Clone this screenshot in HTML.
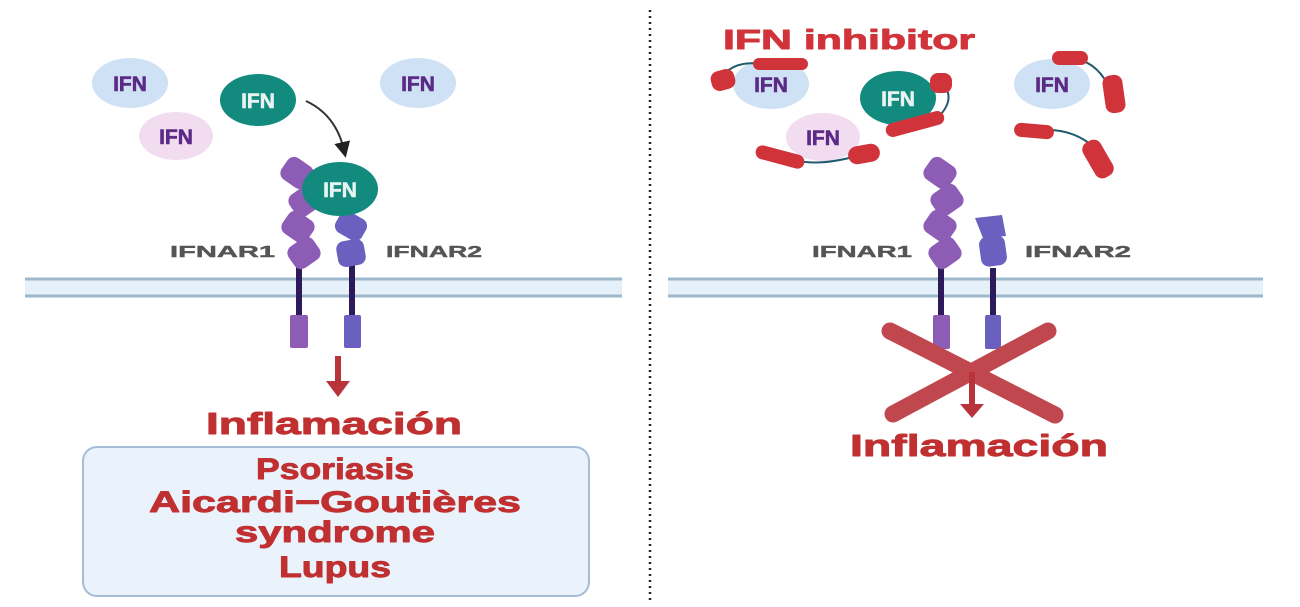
<!DOCTYPE html>
<html><head><meta charset="utf-8"><style>
html,body{margin:0;padding:0;background:#fff;}
svg{display:block;}
text{font-family:"Liberation Sans",sans-serif;font-weight:bold;}
.hv{stroke-width:0.9;stroke-linejoin:round;}
</style></head><body>
<svg width="1300" height="607" viewBox="0 0 1300 607" xmlns="http://www.w3.org/2000/svg">
<defs>
<marker id="ah" markerWidth="8" markerHeight="8" refX="4" refY="4" orient="auto"><path d="M0,0 L8,4 L0,8 Z" fill="#222"/></marker>
</defs>
<line x1="650" y1="10" x2="650" y2="600" stroke="#222" stroke-width="2.5" stroke-dasharray="2,4"/>

<rect x="25" y="278" width="597" height="19" fill="#e6f0f8"/>
<line x1="25" y1="279" x2="622" y2="279" stroke="#9cb8cc" stroke-width="3"/>
<line x1="25" y1="296" x2="622" y2="296" stroke="#9cb8cc" stroke-width="3"/>
<rect x="668" y="278" width="595" height="19" fill="#e6f0f8"/>
<line x1="668" y1="279" x2="1263" y2="279" stroke="#9cb8cc" stroke-width="3"/>
<line x1="668" y1="296" x2="1263" y2="296" stroke="#9cb8cc" stroke-width="3"/>

<g font-size="21" text-anchor="middle" stroke-width="0.6">
<ellipse cx="130" cy="83" rx="38" ry="25" fill="#cfe2f5"/>
<text x="130" y="91" fill="#5b2a86" stroke="#5b2a86">IFN</text>
<ellipse cx="176" cy="136" rx="37" ry="24" fill="#f1dcf0"/>
<text x="176" y="144" fill="#5b2a86" stroke="#5b2a86">IFN</text>
<ellipse cx="418" cy="83" rx="38" ry="25" fill="#cfe2f5"/>
<text x="418" y="91" fill="#5b2a86" stroke="#5b2a86">IFN</text>
<ellipse cx="258" cy="100" rx="38" ry="26" fill="#128a7e"/>
<text x="258" y="108" fill="#e8f4f2" stroke="#e8f4f2">IFN</text>
</g>
<path d="M306,101 Q336,115 344,150" fill="none" stroke="#333" stroke-width="2" marker-end="url(#ah)"/>

<line x1="299" y1="265" x2="299" y2="318" stroke="#2c1a5a" stroke-width="6"/>
<rect x="290" y="315" width="18" height="33" rx="2" fill="#8d5cb5"/>
<line x1="352" y1="262" x2="352" y2="318" stroke="#2c1a5a" stroke-width="6"/>
<rect x="344" y="315" width="17" height="33" rx="2" fill="#6b5fbf"/>
<g fill="#8d5cb5">
<rect x="282" y="160" width="30" height="26" rx="8" transform="rotate(35 297 173)"/>
<rect x="290" y="188" width="30" height="26" rx="8" transform="rotate(-35 305 201)"/>
<rect x="283" y="214" width="30" height="26" rx="8" transform="rotate(35 298 227)"/>
<rect x="289" y="240" width="30" height="26" rx="8" transform="rotate(-35 304 253)"/>
</g>
<g fill="#6b5fbf">
<rect x="336" y="214" width="30" height="24" rx="8" transform="rotate(30 351 226)"/>
<rect x="337" y="240" width="28" height="26" rx="8" transform="rotate(-10 351 253)"/>
</g>
<ellipse cx="340" cy="189" rx="38" ry="27" fill="#128a7e"/>
<text x="340" y="197" font-size="21" fill="#e8f4f2" stroke="#e8f4f2" stroke-width="0.6" text-anchor="middle">IFN</text>
<text x="170" y="257" font-size="16" fill="#555" stroke="#555" stroke-width="0.4" textLength="105" lengthAdjust="spacingAndGlyphs">IFNAR1</text>
<text x="386" y="257" font-size="16" fill="#555" stroke="#555" stroke-width="0.4" textLength="96" lengthAdjust="spacingAndGlyphs">IFNAR2</text>

<line x1="338" y1="356" x2="338" y2="384" stroke="#b8343a" stroke-width="6"/>
<path d="M326,381 L350,381 L338,397 Z" fill="#b8343a"/>
<text class="hv" x="334" y="434" font-size="31" fill="#c03030" stroke="#c03030" text-anchor="middle" textLength="256" lengthAdjust="spacingAndGlyphs">Inflamación</text>

<rect x="83" y="447" width="506" height="149" rx="14" fill="#eaf2fb" stroke="#a5bcd8" stroke-width="2"/>
<g font-size="30" fill="#c03030" stroke="#c03030" class="hv" text-anchor="middle">
<text x="335" y="479" textLength="158" lengthAdjust="spacingAndGlyphs">Psoriasis</text>
<text x="335" y="512" textLength="372" lengthAdjust="spacingAndGlyphs">Aicardi−Goutières</text>
<text x="335" y="542" textLength="200" lengthAdjust="spacingAndGlyphs">syndrome</text>
<text x="335" y="577" textLength="112" lengthAdjust="spacingAndGlyphs">Lupus</text>
</g>

<text class="hv" x="723" y="49" font-size="28" fill="#d0343a" stroke="#d0343a" textLength="252" lengthAdjust="spacingAndGlyphs">IFN inhibitor</text>
<g font-size="21" text-anchor="middle" stroke-width="0.6">
<ellipse cx="771" cy="84" rx="38" ry="25" fill="#cfe2f5"/>
<text x="771" y="92" fill="#5b2a86" stroke="#5b2a86">IFN</text>
<ellipse cx="823" cy="137" rx="37" ry="24" fill="#f1dcf0"/>
<text x="823" y="145" fill="#5b2a86" stroke="#5b2a86">IFN</text>
<ellipse cx="1052" cy="84" rx="38" ry="25" fill="#cfe2f5"/>
<text x="1052" y="92" fill="#5b2a86" stroke="#5b2a86">IFN</text>
<ellipse cx="898" cy="98" rx="38" ry="27" fill="#128a7e"/>
<text x="898" y="106" fill="#e8f4f2" stroke="#e8f4f2">IFN</text>
</g>

<g fill="none" stroke="#1f5a6e" stroke-width="2">
<path d="M720,78 Q735,60 760,64"/>
<path d="M780,155 Q810,170 860,155"/>
<path d="M942,82 Q958,100 935,120"/>
<path d="M1070,58 Q1095,60 1108,85"/>
<path d="M1048,130 Q1075,130 1095,148"/>
</g>
<g fill="#d0343a">
<rect x="753" y="58" width="55" height="12" rx="6"/>
<rect x="711" y="70" width="24" height="20" rx="8" transform="rotate(-15 723 80)"/>
<rect x="755" y="150" width="50" height="14" rx="7" transform="rotate(15 780 157)"/>
<rect x="848" y="145" width="32" height="18" rx="9" transform="rotate(-10 864 154)"/>
<rect x="930" y="73" width="22" height="20" rx="8"/>
<rect x="885" y="117" width="60" height="14" rx="7" transform="rotate(-15 915 124)"/>
<rect x="1052" y="51" width="36" height="14" rx="7"/>
<rect x="1104" y="75" width="20" height="38" rx="8" transform="rotate(-8 1114 94)"/>
<rect x="1014" y="124" width="40" height="14" rx="7" transform="rotate(5 1034 131)"/>
<rect x="1088" y="139" width="20" height="40" rx="8" transform="rotate(-30 1098 159)"/>
</g>

<line x1="941" y1="268" x2="941" y2="318" stroke="#2c1a5a" stroke-width="6"/>
<rect x="933" y="315" width="17" height="34" rx="2" fill="#8d5cb5"/>
<line x1="993" y1="268" x2="993" y2="318" stroke="#2c1a5a" stroke-width="6"/>
<rect x="985" y="315" width="16" height="34" rx="2" fill="#6b5fbf"/>
<g fill="#8d5cb5">
<rect x="925" y="160" width="30" height="26" rx="8" transform="rotate(35 940 173)"/>
<rect x="932" y="187" width="30" height="26" rx="8" transform="rotate(-35 947 200)"/>
<rect x="925" y="213" width="30" height="26" rx="8" transform="rotate(35 940 226)"/>
<rect x="930" y="240" width="30" height="26" rx="8" transform="rotate(-35 945 253)"/>
</g>
<g fill="#6b5fbf">
<path d="M975,218 L1002,215 L1006,236 L983,238 Z"/>
<rect x="980" y="236" width="26" height="30" rx="8" transform="rotate(-8 993 251)"/>
</g>
<text x="812" y="257" font-size="16" fill="#555" stroke="#555" stroke-width="0.4" textLength="100" lengthAdjust="spacingAndGlyphs">IFNAR1</text>
<text x="1025" y="257" font-size="16" fill="#555" stroke="#555" stroke-width="0.4" textLength="106" lengthAdjust="spacingAndGlyphs">IFNAR2</text>

<line x1="890" y1="331" x2="1055" y2="415" stroke="#c0474d" stroke-width="17" stroke-linecap="round"/>
<line x1="1048" y1="331" x2="893" y2="414" stroke="#c0474d" stroke-width="17" stroke-linecap="round"/>
<line x1="972" y1="372" x2="972" y2="407" stroke="#b8343a" stroke-width="6"/>
<path d="M960,404 L984,404 L972,418 Z" fill="#b8343a"/>
<text class="hv" x="979" y="456" font-size="31" fill="#c03030" stroke="#c03030" text-anchor="middle" textLength="258" lengthAdjust="spacingAndGlyphs">Inflamación</text>
</svg>
</body></html>
